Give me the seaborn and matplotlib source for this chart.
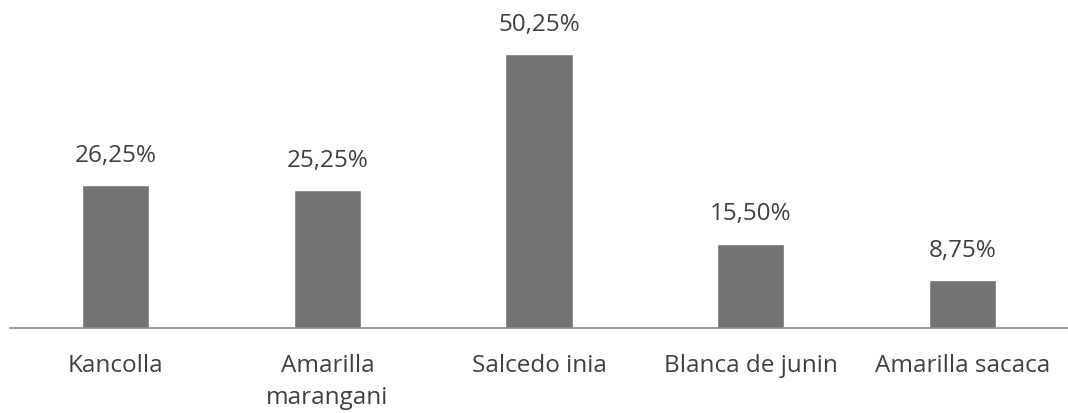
import matplotlib
matplotlib.use("Agg")
import matplotlib.pyplot as plt
import seaborn as sns
import pandas as pd

categories = ["Kancolla", "Amarilla\nmarangani", "Salcedo inia", "Blanca de junin", "Amarilla sacaca"]
values = [26.25, 25.25, 50.25, 15.50, 8.75]
labels = ["26,25%", "25,25%", "50,25%", "15,50%", "8,75%"]

sns.set_theme(style="white")
plt.rcParams['font.family'] = ['Open Sans', 'DejaVu Sans']

df = pd.DataFrame({"cat": categories, "val": values})

fig = plt.figure(figsize=(10.68, 4.13), dpi=100)
ax = fig.add_axes([10/1068, 85/413, 1 - 10/1068, 328/413])
sns.barplot(data=df, x="cat", y="val", color="#737373", saturation=1, width=0.317, ax=ax)
ax.set_ylim(0, 60.2)
ax.set_xlim(-0.5, 4.5)
for i, (v, l) in enumerate(zip(values, labels)):
    ax.annotate(l, (i, v), xytext=(0, 16.6), textcoords="offset points",
                ha="center", va="baseline", fontsize=17.5, color="#404040")
for s in ["top", "right", "left"]:
    ax.spines[s].set_visible(False)
ax.spines["bottom"].set_color("#898989")
ax.spines["bottom"].set_linewidth(1.2)
ax.set_yticks([])
ax.set_xlabel("")
ax.set_ylabel("")
ax.tick_params(axis="x", length=0, pad=19, labelsize=17.5, labelcolor="#404040")
for t in ax.get_xticklabels():
    t.set_verticalalignment("top")
    t.set_linespacing(1.45)
fig.savefig("out.png", dpi=100)
